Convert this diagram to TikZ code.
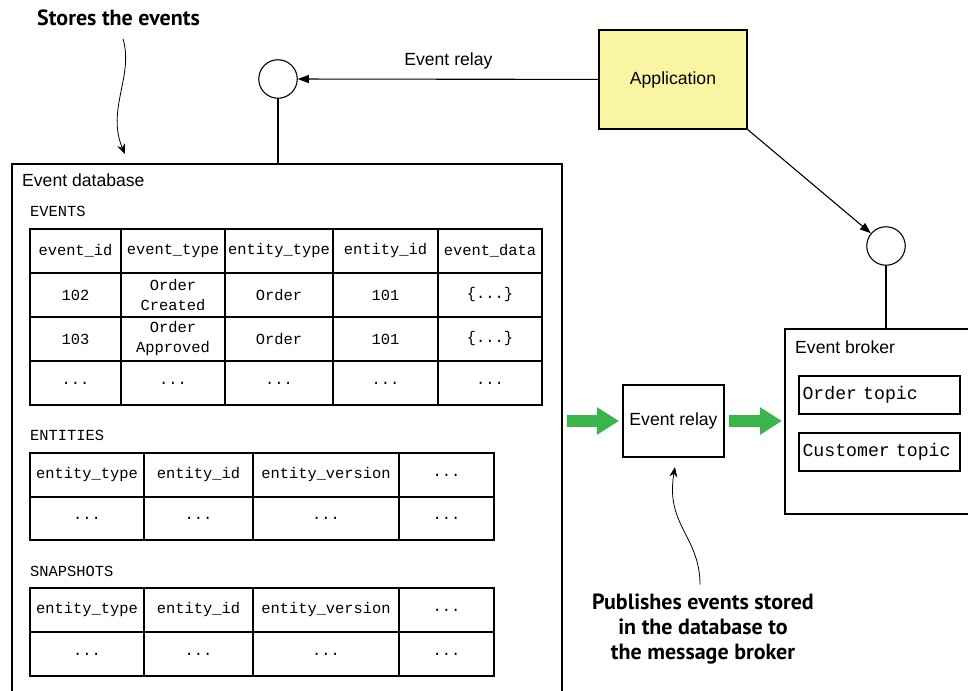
\documentclass[tikz,border=0pt]{standalone}
\usepackage{fontspec}
\setmainfont{Liberation Sans}
\setmonofont{Liberation Mono}
\newfontfamily\notefont{PT Sans}
\usepackage{xcolor}
\usepackage{tikz}
\usetikzlibrary{arrows.meta,positioning}
\definecolor{appyellow}{RGB}{249,245,163}
\definecolor{relaygreen}{RGB}{57,181,74}

\begin{document}
\begin{tikzpicture}[
        x=1pt, y=-1pt,
        box/.style={draw, line width=1.1pt, inner sep=0pt, outer sep=0pt, font=\fontsize{17.6}{21}\selectfont},
        tcell/.style={draw, line width=1.1pt, inner sep=0pt, outer sep=0pt, minimum height=44pt, align=center, font=\ttfamily\fontsize{15.4}{20}\selectfont},
        topic/.style={draw, line width=1.1pt, outer sep=0pt, minimum height=38pt, text width=154pt, inner xsep=3.5pt, align=left, font=\ttfamily\fontsize{18.2}{20}\selectfont},
        tname/.style={anchor=west, inner sep=0pt, font=\ttfamily\fontsize{15.4}{20}\selectfont},
        port/.style={draw, circle, line width=1.1pt, minimum size=38.5pt, inner sep=0pt},
        notetext/.style={align=center, font=\notefont\bfseries\fontsize{22}{25}\selectfont},
        arrow/.style={-{Triangle[length=11pt, width=8pt]}, line width=1.1pt},
        curvy/.style={-{Stealth[length=10pt, width=8pt]}, line width=0.8pt},
        bigarrow/.style={-{Triangle[length=22pt, width=26pt]}, line width=11.5pt, relaygreen}
    ]
    \useasboundingbox (0,0) rectangle (968,690);
    \clip (0,0) rectangle (968,690);

    % event store side
    \node[box, anchor=north west, minimum width=550pt, minimum height=540pt] (db) at (12,164) {};
    \node[anchor=west, inner sep=0pt, font=\fontsize{17.6}{21}\selectfont] (dbname) at (22,180) {Event database};
    \node[port] (dbport) at (278,79) {};
    \draw[line width=1.1pt] (dbport.south) -- (dbport.south |- db.north);

    \node[tname] (eventsname) at (30,211) {EVENTS};
    \node[tcell, anchor=north west, minimum width=91pt] (ev11) at (30,229) {event\_id};
    \node[tcell, minimum width=104pt, right=0pt of ev11] (ev12) {event\_type};
    \node[tcell, minimum width=108pt, right=0pt of ev12] (ev13) {entity\_type};
    \node[tcell, minimum width=105pt, right=0pt of ev13] (ev14) {entity\_id};
    \node[tcell, minimum width=104pt, right=0pt of ev14] (ev15) {event\_data};
    \node[tcell, minimum width=91pt, below=0pt of ev11] (ev21) {102};
    \node[tcell, minimum width=104pt, right=0pt of ev21] (ev22) {Order\\Created};
    \node[tcell, minimum width=108pt, right=0pt of ev22] (ev23) {Order};
    \node[tcell, minimum width=105pt, right=0pt of ev23] (ev24) {101};
    \node[tcell, minimum width=104pt, right=0pt of ev24] (ev25) {\{...\}};
    \node[tcell, minimum width=91pt, below=0pt of ev21] (ev31) {103};
    \node[tcell, minimum width=104pt, right=0pt of ev31] (ev32) {Order\\Approved};
    \node[tcell, minimum width=108pt, right=0pt of ev32] (ev33) {Order};
    \node[tcell, minimum width=105pt, right=0pt of ev33] (ev34) {101};
    \node[tcell, minimum width=104pt, right=0pt of ev34] (ev35) {\{...\}};
    \node[tcell, minimum width=91pt, below=0pt of ev31] (ev41) {...};
    \node[tcell, minimum width=104pt, right=0pt of ev41] (ev42) {...};
    \node[tcell, minimum width=108pt, right=0pt of ev42] (ev43) {...};
    \node[tcell, minimum width=105pt, right=0pt of ev43] (ev44) {...};
    \node[tcell, minimum width=104pt, right=0pt of ev44] (ev45) {...};

    \node[tname] (entitiesname) at (30,435) {ENTITIES};
    \node[tcell, anchor=north west, minimum width=114pt] (en11) at (30,453) {entity\_type};
    \node[tcell, minimum width=109pt, right=0pt of en11] (en12) {entity\_id};
    \node[tcell, minimum width=146pt, right=0pt of en12] (en13) {entity\_version};
    \node[tcell, minimum width=95pt, right=0pt of en13] (en14) {...};
    \node[tcell, minimum width=114pt, minimum height=43pt, below=0pt of en11] (en21) {...};
    \node[tcell, minimum width=109pt, minimum height=43pt, right=0pt of en21] (en22) {...};
    \node[tcell, minimum width=146pt, minimum height=43pt, right=0pt of en22] (en23) {...};
    \node[tcell, minimum width=95pt, minimum height=43pt, right=0pt of en23] (en24) {...};

    \node[tname] (snapshotsname) at (30,571) {SNAPSHOTS};
    \node[tcell, anchor=north west, minimum width=114pt] (sn11) at (30,588) {entity\_type};
    \node[tcell, minimum width=109pt, right=0pt of sn11] (sn12) {entity\_id};
    \node[tcell, minimum width=146pt, right=0pt of sn12] (sn13) {entity\_version};
    \node[tcell, minimum width=95pt, right=0pt of sn13] (sn14) {...};
    \node[tcell, minimum width=114pt, below=0pt of sn11] (sn21) {...};
    \node[tcell, minimum width=109pt, right=0pt of sn21] (sn22) {...};
    \node[tcell, minimum width=146pt, right=0pt of sn22] (sn23) {...};
    \node[tcell, minimum width=95pt, right=0pt of sn23] (sn24) {...};

    % application, relay and broker
    \node[box, fill=appyellow, minimum width=148pt, minimum height=99pt] (app) at (673,79.5) {Application};
    \node[box, minimum width=101pt, minimum height=72pt] (relay) at (673.5,421) {Event relay};
    \node[box, anchor=north west, minimum width=200pt, minimum height=185pt] (broker) at (785,329) {};
    \node[anchor=west, inner sep=0pt, font=\fontsize{17.6}{21}\selectfont] (brokername) at (795,347) {Event broker};
    \node[topic, anchor=north west] (ordertopic) at (799,376) {Order topic};
    \node[topic, anchor=north west] (customertopic) at (799,433) {Customer topic};
    \node[port] (brokerport) at (886,246) {};
    \draw[line width=1.1pt] (brokerport.south) -- (brokerport.south |- broker.north);

    \draw[arrow] (app) -- node[midway, above=6pt, font=\fontsize{17.6}{21}\selectfont] {Event relay} (dbport);
    \draw[arrow] (app.south east) -- (brokerport);
    \draw[bigarrow, shorten <=5pt, shorten >=4pt] (db.east |- relay.west) -- (relay.west);
    \draw[bigarrow, shorten <=5pt, shorten >=3pt] (relay.east) -- (broker.west |- relay.east);

    % notes
    \node[notetext, anchor=base] (note1) at (118.5,26) {Stores the events};
    \draw[curvy] ([shift={(4.5,9)}]note1.south) .. controls +(11,37) and +(-19,-44) .. ([shift={(-162,-10)}]db.north);
    \node[notetext, anchor=north] (note2) at (703,590.5) {Publishes events stored\\in the database to\\the message broker};
    \draw[curvy] ([shift={(-3,-6)}]note2.north) .. controls +(0,-48) and +(-10,58) .. ([shift={(1.5,10)}]relay.south);
\end{tikzpicture}
\end{document}
